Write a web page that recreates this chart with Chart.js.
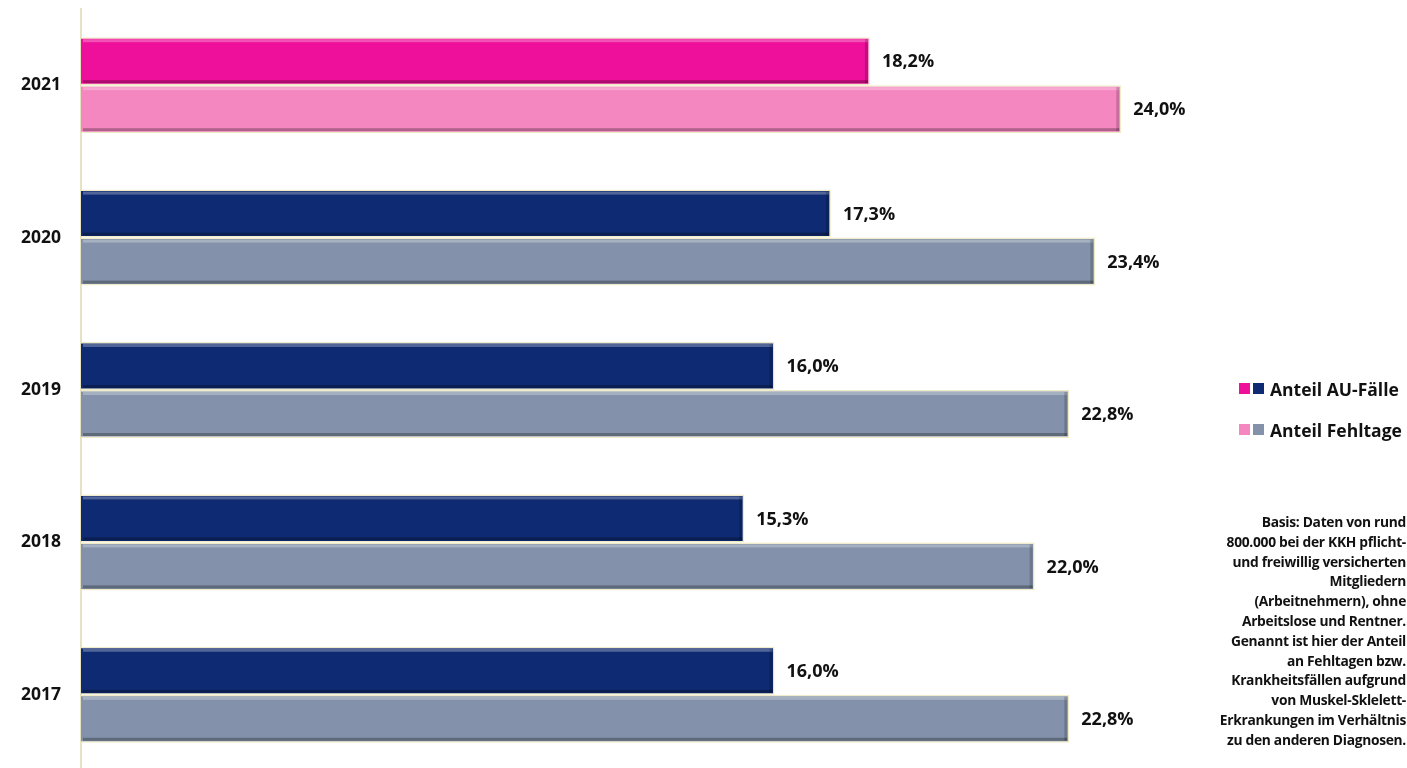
<!DOCTYPE html>
<html>
<head>
<meta charset="utf-8">
<script src="https://cdn.jsdelivr.net/npm/chart.js@4.4.1/dist/chart.umd.min.js"></script>
<style>
  html, body { margin: 0; padding: 0; background: #fff; overflow: hidden; }
  #wrap { position: relative; width: 1407px; height: 772px; }
  #kkhChart { display: block; }
  #legend {
    position: absolute; left: 1239px; top: 368px;
    font: bold 17.5px "Open Sans", sans-serif; color: #111;
  }
  #legend div { height: 41px; display: flex; align-items: center; white-space: nowrap; }
  #legend span.sq { display: inline-block; width: 11px; height: 11px; margin-right: 3px; }
  #legend span.txt { margin-left: 3px; }
  #note {
    position: absolute; right: 1px; top: 512px; width: 260px;
    text-align: right; font: bold 13.8px/19.8px "Open Sans", sans-serif; color: #111;
    letter-spacing: -0.3px;
  }
</style>
</head>
<body>
<div id="wrap">
  <canvas id="kkhChart" width="1407" height="772"></canvas>
  <div id="legend">
    <div><span class="sq" style="background:#ee109a"></span><span class="sq" style="background:#0e2a72"></span><span class="txt">Anteil AU-Fälle</span></div>
    <div><span class="sq" style="background:#f486c0"></span><span class="sq" style="background:#8392aa"></span><span class="txt">Anteil Fehltage</span></div>
  </div>
  <div id="note">Basis: Daten von rund<br>800.000 bei der KKH pflicht-<br>und freiwillig versicherten<br>Mitgliedern<br>(Arbeitnehmern), ohne<br>Arbeitslose und Rentner.<br>Genannt ist hier der Anteil<br>an Fehltagen bzw.<br>Krankheitsfällen aufgrund<br>von Muskel-Sklelett-<br>Erkrankungen im Verhältnis<br>zu den anderen Diagnosen.</div>
</div>
<script>
const years = ['2021', '2020', '2019', '2018', '2017'];
const auFaelle = [18.2, 17.3, 16.0, 15.3, 16.0];
const fehltage = [24.0, 23.4, 22.8, 22.0, 22.8];

const auColors = ['#ee109a', '#0e2a72', '#0e2a72', '#0e2a72', '#0e2a72'];
const fehlColors = ['#f486c0', '#8392aa', '#8392aa', '#8392aa', '#8392aa'];

// bevel look + value labels
const barDeco = {
    id: 'barDeco',
    afterDatasetsDraw(chart) {
        const ctx = chart.ctx;
        chart.data.datasets.forEach((ds, di) => {
            chart.getDatasetMeta(di).data.forEach((bar, i) => {
                const top = bar.y - bar.height / 2;
                const bottom = bar.y + bar.height / 2;
                const left = bar.base;
                const right = bar.x;
                ctx.save();
                ctx.fillStyle = 'rgba(255,255,255,0.28)';
                ctx.fillRect(left + 2, top + 2, right - left - 4, 3);
                ctx.fillStyle = 'rgba(0,0,0,0.28)';
                ctx.fillRect(left + 2, bottom - 5, right - left - 4, 3);
                ctx.fillStyle = 'rgba(0,0,0,0.18)';
                ctx.fillRect(right - 5, top + 2, 3, bar.height - 4);

                ctx.font = 'bold 18px "Open Sans", sans-serif';
                ctx.fillStyle = '#111';
                ctx.textBaseline = 'middle';
                ctx.fillText(ds.data[i].toFixed(1).replace('.', ',') + '%', right + 12, bar.y + 1);
                ctx.restore();
            });
        });
    }
};

new Chart(document.getElementById('kkhChart'), {
    type: 'bar',
    data: {
        labels: years,
        datasets: [
            {
                label: 'Anteil AU-Fälle',
                data: auFaelle,
                backgroundColor: auColors,
                borderColor: '#efebc9',
                borderWidth: 1.5,
                categoryPercentage: 0.63,
                barPercentage: 1
            },
            {
                label: 'Anteil Fehltage',
                data: fehltage,
                backgroundColor: fehlColors,
                borderColor: '#efebc9',
                borderWidth: 1.5,
                categoryPercentage: 0.63,
                barPercentage: 1
            }
        ]
    },
    options: {
        indexAxis: 'y',
        responsive: false,
        animation: false,
        devicePixelRatio: 1,
        layout: {
            padding: { top: 9, right: 199, bottom: 1, left: 0 }
        },
        plugins: {
            legend: { display: false },
            tooltip: { enabled: false }
        },
        scales: {
            x: {
                display: false,
                min: 0,
                max: 26
            },
            y: {
                afterFit(scale) {
                    scale.width = 81;
                    // no extra room above/below for tick labels
                    scale.paddingTop = 0;
                    scale.paddingBottom = 0;
                },
                grid: { display: false, drawTicks: false },
                border: { display: true, color: '#e6e2c4', width: 2 },
                ticks: {
                    padding: 20,
                    color: '#111',
                    font: { family: '"Open Sans", sans-serif', size: 17.5, weight: 'bold' }
                }
            }
        }
    },
    plugins: [barDeco]
});
</script>
</body>
</html>
